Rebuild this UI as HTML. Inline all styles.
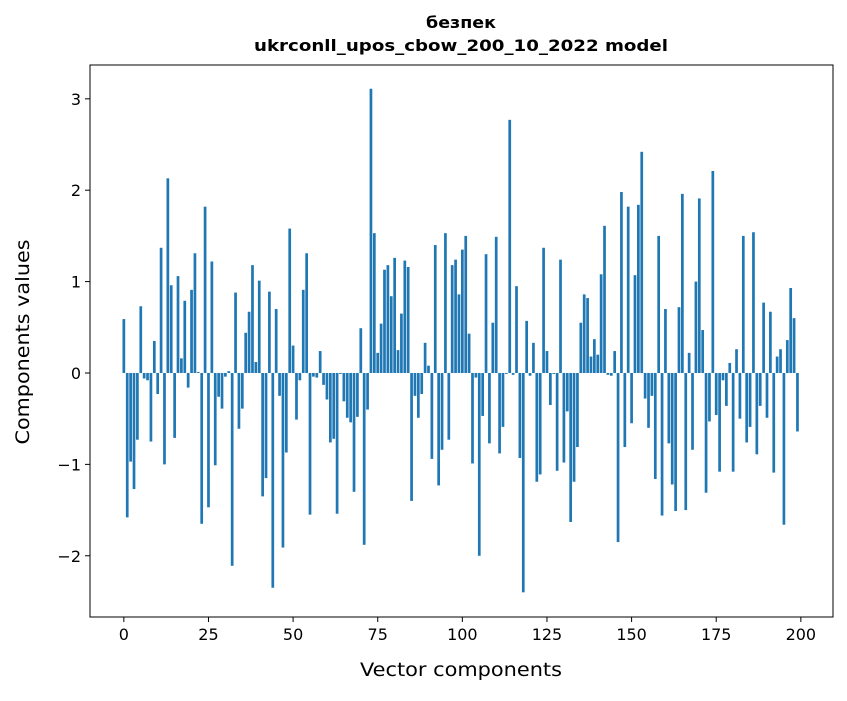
<!DOCTYPE html>
<html><head><meta charset="utf-8"><style>
body{margin:0;background:#fff}
svg text{font-family:"DejaVu Sans","Liberation Sans",sans-serif;fill:#000}
</style></head><body>
<svg id="chart" width="847" height="696" xmlns="http://www.w3.org/2000/svg">
<rect width="847" height="696" fill="#fff"/>
<text x="461" y="28" text-anchor="middle" font-size="16" font-weight="bold" textLength="70" lengthAdjust="spacingAndGlyphs">безпек</text>
<text x="461" y="51" text-anchor="middle" font-size="16" font-weight="bold" textLength="414" lengthAdjust="spacingAndGlyphs">ukrconll_upos_cbow_200_10_2022 model</text>
<g id="bars"></g>
<g id="axes"></g>
<text x="461" y="676" text-anchor="middle" font-size="19" textLength="202" lengthAdjust="spacingAndGlyphs">Vector components</text>
<text transform="translate(29,342) rotate(-90)" text-anchor="middle" font-size="19" textLength="205" lengthAdjust="spacingAndGlyphs">Components values</text>
</svg>
<script>
const values = [0.59,-1.58,-0.97,-1.27,-0.73,0.73,-0.06,-0.08,-0.75,0.35,-0.23,1.37,-1.0,2.13,0.96,-0.71,1.06,0.16,0.79,-0.16,0.91,1.31,0.01,-1.65,1.82,-1.47,1.22,-1.01,-0.26,-0.39,-0.04,0.02,-2.11,0.88,-0.61,-0.39,0.44,0.67,1.18,0.12,1.01,-1.35,-1.15,0.89,-2.35,0.70,-0.25,-1.91,-0.87,1.58,0.30,-0.51,-0.08,0.91,1.31,-1.55,-0.04,-0.05,0.24,-0.13,-0.29,-0.76,-0.72,-1.54,-0.01,-0.31,-0.49,-0.54,-1.30,-0.48,0.49,-1.88,-0.40,3.11,1.53,0.22,0.54,1.13,1.18,0.84,1.26,0.25,0.65,1.23,1.16,-1.40,-0.25,-0.49,-0.23,0.33,0.08,-0.94,1.40,-1.23,-0.84,1.53,-0.73,1.18,1.24,0.86,1.35,1.50,0.43,-0.99,-0.05,-2.0,-0.47,1.30,-0.77,0.55,1.49,-0.88,-0.59,-0.01,2.77,-0.02,0.95,-0.93,-2.40,0.57,-0.03,0.33,-1.19,-1.11,1.37,0.24,-0.35,-0.01,-1.07,1.24,-0.98,-0.42,-1.63,-1.19,-0.81,0.55,0.86,0.82,0.18,0.37,0.20,1.08,1.61,-0.02,-0.03,0.24,-1.85,1.98,-0.81,1.82,-0.55,1.07,1.84,2.42,-0.28,-0.60,-0.25,-1.16,1.50,-1.56,0.70,-0.77,-1.22,-1.51,0.72,1.96,-1.50,0.22,-0.84,1.00,1.91,0.47,-1.31,-0.53,2.21,-0.46,-1.08,-0.08,-0.36,0.11,-1.08,0.26,-0.50,1.50,-0.76,-0.59,1.54,-0.89,-0.36,0.77,-0.49,0.67,-1.09,0.18,0.26,-1.66,0.36,0.93,0.60,-0.64];
const xTicks = [0,25,50,75,100,125,150,175,200];
const yTicks = [-2,-1,0,1,2,3];
const yTickLabels = ["\u22122","\u22121","0","1","2","3"];

const L=90,R=833,T=65,B=617;
const xMin=-10.0,xMax=209.5,yMin=-2.67,yMax=3.37;
const X=v=>L+(v-xMin)/(xMax-xMin)*(R-L);
const Y=v=>T+(yMax-v)/(yMax-yMin)*(B-T);
const NS="http://www.w3.org/2000/svg";
const bars=document.getElementById('bars');
const axes=document.getElementById('axes');
const bw=X(0.4)-X(-0.4);
values.forEach((v,i)=>{
  const r=document.createElementNS(NS,'rect');
  const y0=Y(Math.max(v,0)),y1=Y(Math.min(v,0));
  r.setAttribute('x',X(i)-bw/2);
  r.setAttribute('y',y0);
  r.setAttribute('width',bw);
  r.setAttribute('height',Math.max(y1-y0,0.3));
  r.setAttribute('fill','#1f77b4');
  
  
  bars.appendChild(r);
});
const frame=document.createElementNS(NS,'rect');
frame.setAttribute('x',L);frame.setAttribute('y',T);
frame.setAttribute('width',R-L);frame.setAttribute('height',B-T);
frame.setAttribute('fill','none');frame.setAttribute('stroke','#000');frame.setAttribute('stroke-width','1');


axes.appendChild(frame);
xTicks.forEach(t=>{
  const l=document.createElementNS(NS,'line');
  l.setAttribute('x1',X(t));l.setAttribute('x2',X(t));l.setAttribute('y1',B);l.setAttribute('y2',B+5);
  l.setAttribute('stroke','#000');
  
  
  axes.appendChild(l);
  const tx=document.createElementNS(NS,'text');
  tx.setAttribute('x',X(t));tx.setAttribute('y',B+23);tx.setAttribute('text-anchor','middle');tx.setAttribute('font-size','16');
  tx.textContent=t;
  
  
  axes.appendChild(tx);
});
yTicks.forEach((t,k)=>{
  const l=document.createElementNS(NS,'line');
  l.setAttribute('x1',L-5);l.setAttribute('x2',L);l.setAttribute('y1',Y(t));l.setAttribute('y2',Y(t));
  l.setAttribute('stroke','#000');
  
  
  axes.appendChild(l);
  const tx=document.createElementNS(NS,'text');
  tx.setAttribute('x',L-9);tx.setAttribute('y',Y(t)+6);tx.setAttribute('text-anchor','end');tx.setAttribute('font-size','16');
  tx.textContent=yTickLabels[k];
  
  
  axes.appendChild(tx);
});
</script>
</body></html>
